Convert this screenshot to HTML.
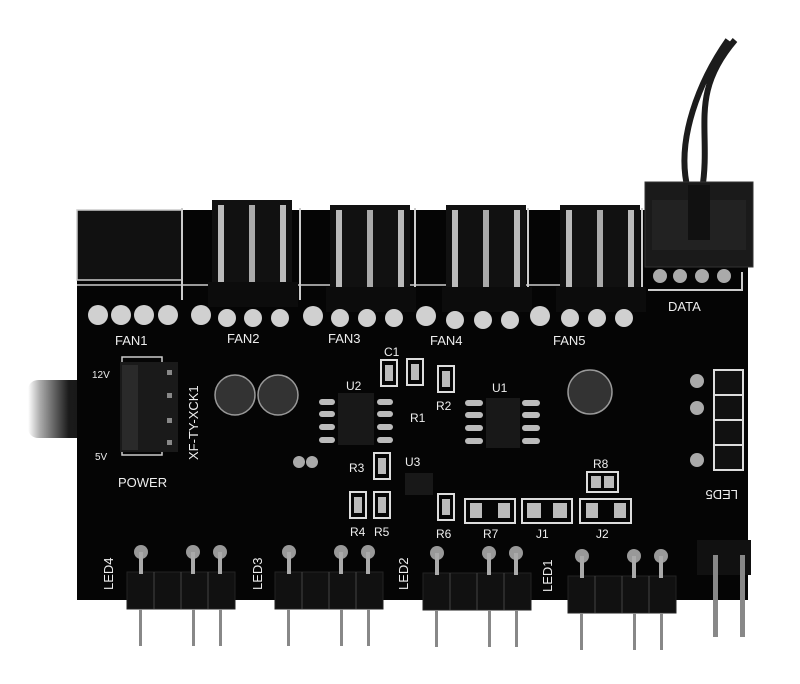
<!DOCTYPE html><html><head><style>body{margin:0;background:#fff}svg{display:block}text{font-family:"Liberation Sans",sans-serif;fill:#eee;font-weight:normal}</style></head><body>
<svg width="800" height="684" viewBox="0 0 800 684">
<defs>
<linearGradient id="cg" x1="0" x2="1"><stop offset="0" stop-color="#fff"/><stop offset="0.12" stop-color="#aaa"/><stop offset="0.4" stop-color="#1a1a1a"/><stop offset="1" stop-color="#111"/></linearGradient>
<g id="fan"><rect x="0" y="0" width="80" height="90" fill="#111"/><rect x="6" y="5" width="6" height="80" fill="#bbb"/><rect x="37" y="5" width="6" height="80" fill="#aaa"/><rect x="68" y="5" width="6" height="80" fill="#bbb"/><rect x="-4" y="82" width="90" height="25" fill="#0c0c0c"/></g>
<g id="led"><rect x="0" y="0" width="108" height="37" fill="#111" stroke="#222"/><line x1="27" y1="0" x2="27" y2="37" stroke="#444"/><line x1="54" y1="0" x2="54" y2="37" stroke="#444"/><line x1="81" y1="0" x2="81" y2="37" stroke="#444"/><rect x="12" y="37" width="3" height="37" fill="#888"/><rect x="65" y="37" width="3" height="37" fill="#888"/><rect x="92" y="37" width="3" height="37" fill="#888"/><circle cx="14" cy="-20" r="7" fill="#999"/><circle cx="66" cy="-20" r="7" fill="#999"/><circle cx="93" cy="-20" r="7" fill="#999"/><rect x="12" y="-20" width="4" height="22" fill="#aaa"/><rect x="64" y="-20" width="4" height="22" fill="#aaa"/><rect x="91" y="-20" width="4" height="22" fill="#aaa"/></g>
<g id="res"><rect x="0" y="0" width="16" height="26" fill="none" stroke="#ddd" stroke-width="2"/><rect x="4" y="5" width="8" height="16" fill="#bbb"/></g>
</defs>
<rect x="28" y="380" width="102" height="58" rx="10" fill="url(#cg)"/>
<path d="M688 190 C675 140 700 80 728 40 M702 190 C712 130 688 95 735 40" stroke="#1c1c1c" stroke-width="6" fill="none"/>
<rect x="77" y="210" width="671" height="390" fill="#050505"/>
<rect x="77" y="210" width="105" height="70" fill="#111" stroke="#ccc" stroke-width="1.5"/>
<path d="M182 208 V300 M300 208 V300 M415 208 V300 M528 208 V300 M642 208 V300" stroke="#ccc" stroke-width="2"/>
<path d="M77 285 H640" stroke="#ccc" stroke-width="1.5"/>
<use href="#fan" x="212" y="200"/><use href="#fan" x="330" y="205"/><use href="#fan" x="446" y="205"/><use href="#fan" x="560" y="205"/>
<rect x="645" y="182" width="108" height="85" fill="#1a1a1a" stroke="#333"/><rect x="652" y="200" width="94" height="50" fill="#222"/><rect x="688" y="185" width="22" height="55" fill="#111"/>
<g fill="#aaa"><circle cx="660" cy="276" r="7"/><circle cx="680" cy="276" r="7"/><circle cx="702" cy="276" r="7"/><circle cx="724" cy="276" r="7"/></g>
<path d="M648 290 H742 V272" stroke="#ccc" stroke-width="2" fill="none"/>
<g fill="#d0d0d0"><circle cx="98" cy="315" r="10"/><circle cx="121" cy="315" r="10"/><circle cx="144" cy="315" r="10"/><circle cx="168" cy="315" r="10"/><circle cx="201" cy="315" r="10"/><circle cx="227" cy="318" r="9"/><circle cx="253" cy="318" r="9"/><circle cx="280" cy="318" r="9"/><circle cx="313" cy="316" r="10"/><circle cx="340" cy="318" r="9"/><circle cx="367" cy="318" r="9"/><circle cx="394" cy="318" r="9"/><circle cx="426" cy="316" r="10"/><circle cx="455" cy="320" r="9"/><circle cx="483" cy="320" r="9"/><circle cx="510" cy="320" r="9"/><circle cx="540" cy="316" r="10"/><circle cx="570" cy="318" r="9"/><circle cx="597" cy="318" r="9"/><circle cx="624" cy="318" r="9"/></g>
<g font-size="13"><text x="115" y="345">FAN1</text><text x="227" y="343">FAN2</text><text x="328" y="343">FAN3</text><text x="430" y="345">FAN4</text><text x="553" y="345">FAN5</text><text x="668" y="311">DATA</text><text x="118" y="487">POWER</text></g>
<path d="M122 365 V357 H162 V365 M122 447 V455 H162 V447" stroke="#ccc" stroke-width="1.5" fill="none"/>
<rect x="120" y="362" width="58" height="90" fill="#1a1a1a"/><rect x="122" y="365" width="16" height="85" fill="#2a2a2a"/>
<g fill="#888"><rect x="167" y="370" width="5" height="5"/><rect x="167" y="393" width="5" height="5"/><rect x="167" y="418" width="5" height="5"/><rect x="167" y="440" width="5" height="5"/></g>
<text x="92" y="378" font-size="10">12V</text><text x="95" y="460" font-size="10">5V</text>
<text transform="translate(198,460) rotate(-90)" font-size="13">XF-TY-XCK1</text>
<g fill="#333" stroke="#999" stroke-width="1.5"><circle cx="235" cy="395" r="20"/><circle cx="278" cy="395" r="20"/><circle cx="590" cy="392" r="22"/></g>
<circle cx="299" cy="462" r="6" fill="#aaa"/><circle cx="312" cy="462" r="6" fill="#aaa"/>
<rect x="338" y="393" width="36" height="52" fill="#181818"/><rect x="486" y="398" width="34" height="50" fill="#181818"/>
<g fill="#bbb"><rect x="319" y="399" width="16" height="6" rx="3"/><rect x="319" y="411" width="16" height="6" rx="3"/><rect x="319" y="424" width="16" height="6" rx="3"/><rect x="319" y="437" width="16" height="6" rx="3"/><rect x="377" y="399" width="16" height="6" rx="3"/><rect x="377" y="411" width="16" height="6" rx="3"/><rect x="377" y="424" width="16" height="6" rx="3"/><rect x="377" y="437" width="16" height="6" rx="3"/><rect x="465" y="400" width="18" height="6" rx="3"/><rect x="465" y="412" width="18" height="6" rx="3"/><rect x="465" y="425" width="18" height="6" rx="3"/><rect x="465" y="438" width="18" height="6" rx="3"/><rect x="522" y="400" width="18" height="6" rx="3"/><rect x="522" y="412" width="18" height="6" rx="3"/><rect x="522" y="425" width="18" height="6" rx="3"/><rect x="522" y="438" width="18" height="6" rx="3"/></g>
<rect x="405" y="473" width="28" height="22" fill="#181818"/>
<use href="#res" x="381" y="360"/><use href="#res" x="407" y="359"/><use href="#res" x="438" y="366"/><use href="#res" x="374" y="453"/><use href="#res" x="350" y="492"/><use href="#res" x="374" y="492"/><use href="#res" x="438" y="494"/>
<g font-size="12"><text x="384" y="356">C1</text><text x="346" y="390">U2</text><text x="492" y="392">U1</text><text x="410" y="422">R1</text><text x="436" y="410">R2</text><text x="349" y="472">R3</text><text x="405" y="466">U3</text><text x="350" y="536">R4</text><text x="374" y="536">R5</text><text x="436" y="538">R6</text><text x="483" y="538">R7</text><text x="536" y="538">J1</text><text x="596" y="538">J2</text><text x="593" y="468">R8</text></g>
<g fill="none" stroke="#ddd" stroke-width="2"><rect x="465" y="499" width="50" height="24"/><rect x="522" y="499" width="50" height="24"/><rect x="580" y="499" width="51" height="24"/><rect x="587" y="472" width="31" height="20"/></g>
<g fill="#bbb"><rect x="470" y="503" width="12" height="15"/><rect x="498" y="503" width="12" height="15"/><rect x="527" y="503" width="14" height="15"/><rect x="553" y="503" width="14" height="15"/><rect x="586" y="503" width="12" height="15"/><rect x="614" y="503" width="12" height="15"/><rect x="591" y="476" width="10" height="12"/><rect x="604" y="476" width="10" height="12"/></g>
<g fill="#111" stroke="#ddd" stroke-width="2"><rect x="714" y="370" width="29" height="25"/><rect x="714" y="395" width="29" height="25"/><rect x="714" y="420" width="29" height="25"/><rect x="714" y="445" width="29" height="25"/></g>
<g fill="#aaa"><circle cx="697" cy="381" r="7"/><circle cx="697" cy="408" r="7"/><circle cx="697" cy="460" r="7"/></g>
<text transform="translate(738,490) rotate(180)" font-size="13">LED5</text>
<use href="#led" x="127" y="572"/><use href="#led" x="275" y="572"/><use href="#led" x="423" y="573"/><use href="#led" x="568" y="576"/>
<g font-size="13"><text transform="translate(113,590) rotate(-90)">LED4</text><text transform="translate(262,590) rotate(-90)">LED3</text><text transform="translate(408,590) rotate(-90)">LED2</text><text transform="translate(552,592) rotate(-90)">LED1</text></g>
<rect x="697" y="540" width="54" height="35" fill="#111"/><rect x="713" y="555" width="5" height="82" fill="#888"/><rect x="740" y="555" width="5" height="82" fill="#888"/>
</svg></body></html>
